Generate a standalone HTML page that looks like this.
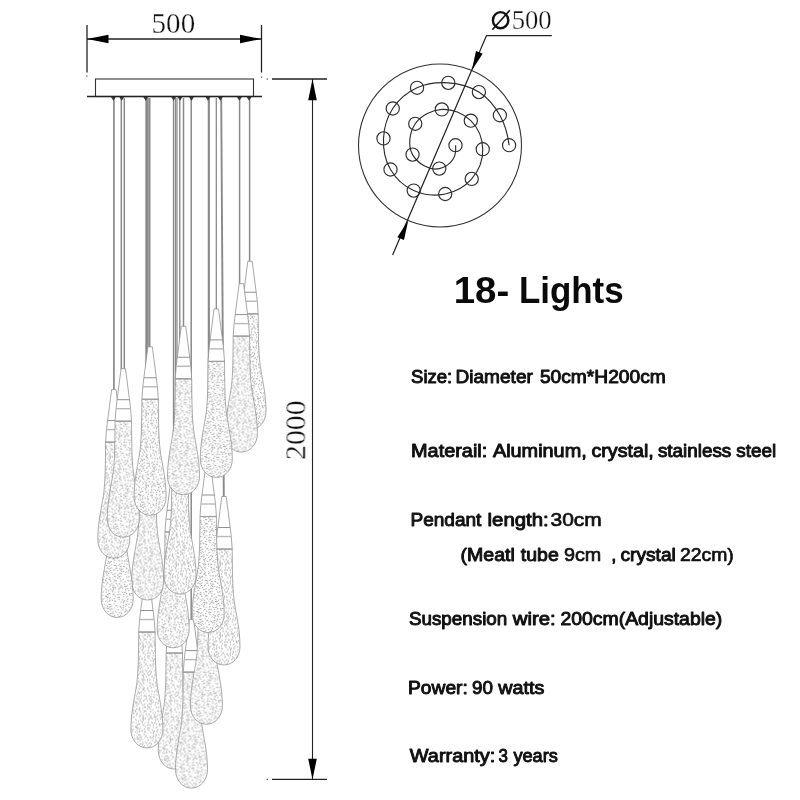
<!DOCTYPE html>
<html><head><meta charset="utf-8"><title>18 Lights</title>
<style>html,body{margin:0;padding:0;background:#fff}body{width:800px;height:800px;overflow:hidden;font-family:"Liberation Sans",sans-serif}svg{display:block}.t{font-family:"Liberation Sans",sans-serif;font-weight:normal;fill:#111;stroke:#111;stroke-width:.95px;stroke-linejoin:round}.h{font-family:"Liberation Sans",sans-serif;font-weight:bold;fill:#0a0a0a}.s{font-family:"Liberation Serif",serif;fill:#111;stroke:#fff;stroke-width:.3px}</style></head><body>
<svg width="800" height="800" viewBox="0 0 800 800">
<defs>
<pattern id="st" width="72" height="72" patternUnits="userSpaceOnUse"><rect width="72" height="72" fill="#fff"/><path d="M23.3 10.9l-0.3 -0.1M46.9 5.2l1.3 -0.2M38.6 26.3l1.1 0.4M4.2 36.5l0.1 -0.6M2.7 31.2l1.2 0.7M5.0 6.5l1.0 0.7M30.6 59.5l-0.8 0.0M8.9 16.1l-0.5 0.2M45.2 68.2l0.4 0.9M41.6 28.6l0.6 1.2M70.3 3.4l-0.1 -0.5M61.8 20.9l0.3 0.2M10.4 8.5l-0.9 -0.6M22.2 58.8l0.3 -1.2M13.0 41.9l0.5 -0.1M46.0 26.8l-0.6 0.1M39.4 4.5l-1.1 -0.9M4.3 14.8l-0.8 -0.7M49.0 30.8l-0.6 -0.9M22.6 42.2l-0.9 -0.2M32.6 21.6l0.2 -0.6M57.2 50.3l-0.0 0.7M17.6 41.4l-0.4 0.2M37.8 63.0l0.1 -0.3M52.5 20.7l0.1 1.2M70.6 8.5l-1.3 -0.5M30.1 54.5l-0.1 -1.2M10.9 35.2l1.3 -0.5M2.8 48.1l-0.2 -0.5M55.0 41.3l0.4 -0.4M50.1 42.8l0.0 -0.8M41.8 32.8l-0.5 0.9M60.5 68.0l1.1 0.8M34.1 47.8l-0.9 -0.1M4.4 50.5l-0.6 -1.2M46.6 71.5l-0.5 -1.2M59.2 20.5l0.3 0.6M27.8 48.1l0.1 0.5M4.2 55.3l-0.3 -0.2M28.1 62.7l1.0 -0.6M5.8 32.3l0.3 1.3M59.0 62.2l-0.5 -1.1M20.0 29.9l-0.5 -0.3M25.8 63.7l-0.5 0.8M69.0 10.9l0.5 0.1M12.7 16.7l0.7 1.2M16.8 34.9l1.2 0.4M42.4 18.9l-0.6 -0.8M0.3 30.2l-0.7 1.1M26.6 40.8l-0.5 0.4M68.6 49.7l0.5 -1.0M37.1 44.5l0.2 0.5M64.8 56.2l-0.1 1.0M28.3 28.7l-0.4 -0.8M7.5 45.7l-1.0 -0.2M15.0 11.7l1.2 -0.9M24.5 3.8l-0.9 0.2M0.0 10.9l-1.0 1.0M7.3 26.2l-0.8 0.1M1.8 63.0l0.9 0.0M44.2 10.7l-1.1 0.7M18.2 25.0l-0.2 -0.4M26.2 8.8l0.3 -0.5M61.1 71.5l-0.0 0.7M33.6 34.8l-0.5 -0.1M24.7 19.1l-1.0 -0.2M59.7 11.6l0.2 0.3M1.7 68.5l0.4 -1.3M38.0 10.6l-0.5 0.1M39.1 1.9l0.6 -0.4M38.0 70.5l-1.0 -1.1M62.2 50.1l-0.9 0.9M12.0 55.6l-0.7 0.4M38.3 56.1l0.1 -1.0M23.7 16.1l1.3 0.2M58.4 70.9l-0.8 0.4M61.4 58.0l0.6 -1.0M58.9 53.3l-1.4 -0.1M16.3 37.3l1.1 -0.6M2.0 20.1l1.1 -0.7M18.7 49.9l-0.9 -0.0M68.9 32.2l-0.2 -1.0M67.5 71.1l-0.4 -1.4M68.8 26.3l-0.1 -0.6M15.9 16.3l0.5 0.7M14.2 14.7l0.4 -0.6M44.9 64.8l0.4 -0.5M60.5 34.5l0.1 1.1M47.0 57.6l0.9 0.2M54.0 34.4l-0.4 -0.2M70.0 28.5l-1.3 -0.6M28.9 68.2l-0.7 -0.4M52.2 12.2l-0.0 -0.6M9.1 10.9l0.2 0.8M10.5 59.5l1.4 0.5M70.6 47.3l1.0 -0.1M9.4 1.0l0.5 -1.3M37.9 67.2l0.8 0.0M31.2 62.8l0.4 0.4M59.5 15.2l0.5 0.0M18.1 21.1l-1.1 0.2M9.4 65.5l-1.0 0.4M25.5 33.0l0.3 0.5M42.0 65.1l-0.1 0.3M30.3 66.1l1.4 -0.1M36.1 38.3l0.6 0.8M31.7 13.2l-0.1 -0.3M0.3 57.5l0.8 -0.5M52.2 40.1l-0.8 0.1M23.5 37.3l-0.6 0.7M7.6 40.3l0.2 -0.8M55.6 36.6l0.1 -0.7M40.4 54.7l0.7 0.9M65.7 31.9l-0.8 -0.9M44.1 36.4l0.2 0.7M36.9 49.9l0.3 0.2M32.6 38.4l0.5 1.3M34.4 67.8l-0.8 0.2M50.3 63.1l-0.8 -1.0M67.8 18.7l-0.3 0.4M40.3 67.9l-1.3 -0.7M8.8 31.8l-0.1 -1.1M5.2 17.3l0.3 -0.4M5.3 48.2l-1.1 -0.2M56.4 64.6l0.4 -0.0M11.1 51.6l0.0 0.6M47.5 10.3l-0.6 -1.2M63.6 69.7l0.0 0.4M15.8 68.6l0.4 1.1M28.7 35.1l0.9 -1.1M71.3 59.9l-1.4 -0.4M11.6 31.1l-0.2 1.4M37.1 24.4l1.0 0.5M14.1 22.9l-1.3 -0.1M52.0 1.4l-1.0 0.6M1.3 23.9l0.5 -0.0M4.6 70.9l1.0 0.7M7.5 19.1l1.0 -0.6M19.5 9.3l-1.0 0.3M41.1 50.4l0.1 0.4M6.4 4.1l0.2 -0.5M5.2 67.6l-0.3 -1.0M6.0 61.6l-0.4 0.4M32.7 24.4l0.5 0.3M37.9 17.2l-0.1 0.8M22.5 22.0l0.1 0.4M36.0 12.8l-0.7 -0.6M25.0 1.3l-0.5 0.1M18.0 1.1l0.3 0.8M13.6 34.2l-0.2 -0.3M67.3 7.7l-0.2 -0.9M59.0 31.1l0.6 0.3M35.6 60.1l0.7 0.4M49.5 70.7l0.4 -1.0M24.7 59.9l-1.3 -0.6M50.9 45.8l-0.1 -1.2M29.1 25.0l-0.7 -0.5M3.9 9.3l0.1 -0.5M18.4 11.8l1.2 0.8M20.3 17.4l0.6 -0.1M21.1 33.1l0.3 1.1M19.0 69.2l-0.5 -0.3M70.0 39.4l-1.3 -0.6M22.3 25.7l-0.6 -1.1M0.1 27.5l0.5 1.2M6.5 28.8l0.1 0.4M3.0 1.6l0.5 0.2M42.2 38.1l-0.2 0.9M54.0 47.3l0.6 1.0M3.2 60.1l0.9 -0.1M64.2 45.2l-0.1 0.4M52.8 58.5l0.7 -0.6M10.0 37.7l-0.5 0.7M57.9 59.5l0.7 -1.1M49.2 49.9l0.3 0.5M40.2 45.2l-1.0 0.5M45.1 49.0l0.2 -1.0M35.2 0.2l-0.3 -0.5M53.0 18.2l-0.6 -0.1M52.5 14.8l0.2 -0.2M53.3 70.3l0.1 0.3M35.6 27.5l0.8 -0.8M55.2 44.4l-0.0 0.5M10.6 18.3l-1.1 -0.8M48.7 20.9l1.2 -0.7M37.2 33.5l-0.4 -0.3M33.6 8.5l-0.6 -1.2M64.3 14.3l1.1 -0.6M70.4 67.4l-0.1 -0.9M59.1 36.6l0.1 -0.6M16.7 64.6l-0.4 0.0M0.3 35.4l-0.9 -0.8M10.1 24.8l-1.1 -1.0M0.1 54.1l1.2 -0.2M60.4 8.6l0.7 -0.7M66.7 51.3l-0.6 0.3M64.9 20.9l1.3 -0.6M71.9 42.4l0.4 0.0M19.8 3.5l1.0 -0.5M20.6 67.4l-0.5 -0.1M21.4 53.2l0.3 -0.5M70.3 18.7l0.9 0.6M12.0 11.6l-0.7 -0.7M35.8 15.8l0.0 0.8M13.9 6.5l-0.4 0.5M24.6 6.6l-0.6 -1.0M17.2 18.6l-0.2 -0.4M54.0 29.7l-0.2 0.4M29.8 37.7l-0.3 -0.7M4.5 20.0l-0.2 1.1M62.1 15.5l1.4 0.3M28.8 32.1l0.8 -0.1M68.7 61.1l0.4 -0.2M62.8 1.6l-0.8 -0.0M64.5 34.1l0.1 0.3M42.3 0.0l0.9 0.1M46.6 55.1l0.1 -0.6M46.5 21.9l-0.6 1.0M37.8 42.0l-0.8 -0.0M27.9 16.1l0.1 -0.9M22.1 1.6l-0.6 -1.4M30.2 18.5l-0.0 1.2M48.0 66.6l-0.5 0.6M24.3 30.3l-0.3 0.4M49.1 14.3l-0.7 -0.0M69.8 22.4l-1.1 0.7M15.9 54.8l-0.2 -1.2M16.1 30.0l0.8 -0.5M10.5 28.3l1.3 -0.0M10.2 3.7l-1.1 0.6M64.7 63.6l1.1 0.9M67.1 23.7l1.3 0.6M13.4 67.4l0.6 0.3M26.9 23.9l-1.0 0.3M12.2 0.2l0.3 0.5M69.4 14.9l-0.4 0.3M3.5 34.1l-0.6 0.2M26.8 66.2l0.9 0.2M13.9 26.2l-0.9 0.3M55.2 2.9l0.2 -0.7M2.5 4.5l-0.7 -0.2M53.8 64.7l-0.4 0.9M69.0 44.4l1.4 -0.0M67.9 1.7l1.1 -0.5M66.8 13.2l-0.4 -0.1M59.2 55.6l-0.2 -0.5M43.7 23.6l0.1 -0.5M56.3 5.7l0.8 0.2M2.4 39.8l-0.6 -0.3M23.5 70.6l-0.9 0.0M19.1 6.1l0.3 -0.2M6.9 35.9l-0.3 -0.3M51.1 32.2l0.1 -0.4M53.9 61.0l-0.2 -0.5M11.0 63.7l-0.6 0.6M28.5 71.5l0.5 -0.0M58.2 47.0l-1.3 -0.7M8.6 13.6l0.4 -0.7M62.4 32.3l0.5 0.1M18.7 56.0l-0.2 1.0M42.9 44.6l0.8 1.1M57.3 39.5l-1.4 -0.2M26.2 14.2l0.6 -1.2M0.4 64.9l0.3 0.4M14.2 9.1l-0.7 0.8M34.8 3.8l0.1 -0.3M66.7 27.9l1.3 0.7M56.6 16.0l-0.9 -0.5M30.2 41.9l-0.3 -0.2M30.7 47.4l0.5 0.4M32.2 31.6l0.5 -1.3M1.7 44.6l0.7 -1.1M55.0 56.2l1.0 0.0M56.8 67.0l-0.7 0.4M4.7 25.3l1.0 -0.7M54.4 11.4l-0.4 -0.7M2.7 13.1l0.8 0.9M62.9 40.0l0.8 0.6M7.5 71.5l1.0 -0.4M25.9 55.1l-0.1 -0.4M42.2 47.8l-1.5 -0.2M44.4 31.1l1.4 -0.1M42.4 14.7l-1.1 0.6M44.9 34.2l-0.9 0.6M16.3 7.6l-0.3 -0.8M39.9 31.4l-0.0 -0.9M19.1 46.2l-0.2 -0.7M53.7 23.5l-0.8 1.2M63.4 23.7l1.0 -1.1M31.5 52.2l0.5 0.1M41.1 22.2l-0.4 -0.3M15.3 44.8l-0.7 -0.7M50.2 53.0l1.3 -0.4M4.7 42.5l-0.4 0.4M65.8 68.0l-0.5 0.5M69.4 36.3l-0.9 -0.6M61.3 44.5l0.5 0.0M25.0 50.7l-0.7 1.2M62.1 6.5l0.3 -0.3M0.1 14.5l-0.5 -1.2M35.4 57.4l-1.1 -0.3M50.4 35.9l-0.2 1.1M50.2 56.7l0.5 -0.1M14.8 19.0l0.5 1.2M50.6 60.7l0.2 0.8M23.6 13.6l-0.4 0.6M70.2 52.5l-0.8 0.6M28.0 2.4l-0.3 -0.6M28.7 57.0l-0.3 0.9M10.2 43.5l-0.3 -0.4M22.5 45.2l0.5 -0.7M45.3 18.0l0.5 -0.2M13.2 47.1l0.2 -0.4M56.0 28.0l-0.4 0.0M39.0 51.6l0.2 0.8M15.1 49.3l-1.3 -0.2M67.7 37.9l1.2 -0.6M15.8 57.7l0.4 1.1M9.3 55.9l0.8 0.5M33.8 40.5l-0.7 -0.5M25.4 46.0l0.1 -0.6M60.0 25.5l0.4 -0.6M43.8 56.3l-0.7 1.1M40.0 19.0l-0.8 -0.0M47.9 60.5l1.1 -0.2M69.2 5.4l0.6 0.3M45.9 45.8l-0.2 -0.7M36.3 19.6l-0.6 -0.2M66.3 43.8l-0.2 0.5M48.0 33.0l-0.6 0.0M13.1 2.7l-0.7 -1.2M42.6 67.5l0.6 -0.1M29.7 7.3l1.1 0.4M46.4 15.3l0.9 0.1M0.3 49.2l-0.0 0.4M52.5 6.1l0.6 -0.4M58.8 5.7l-0.8 0.8M68.0 56.5l-0.3 0.2M33.5 14.9l0.2 1.3M57.0 33.1l-0.1 -0.3M6.3 58.1l-0.2 0.5M63.7 37.6l0.9 -0.4M65.5 4.6l-1.0 1.0M8.6 69.1l-0.3 -0.8M48.2 28.3l0.4 -0.7M16.0 2.8l1.3 0.4M60.3 3.4l1.3 0.1M54.4 67.6l-0.3 -0.1M7.6 23.3l0.4 0.5M22.9 65.0l0.4 1.0M4.1 64.4l0.1 0.6M18.6 14.5l-0.0 0.5M41.1 9.9l0.3 -0.6M58.4 42.0l1.2 -0.1M13.4 59.9l1.1 -0.7M26.4 11.8l-0.8 -0.8M8.7 51.5l0.4 -0.8M18.0 58.8l0.4 -0.1M2.2 6.9l-0.3 -0.8M50.6 7.4l-0.6 -1.2M29.2 9.9l0.2 0.3M42.6 62.0l-0.3 -0.6M55.9 24.4l-1.0 -0.7M31.4 70.6l0.8 -0.9M40.1 35.4l0.4 0.9M20.5 71.1l1.1 0.8M21.3 55.6l-0.4 0.3M53.2 53.5l-0.2 0.9M41.9 6.3l-0.3 -0.8M60.7 60.3l-0.1 -1.2M25.3 68.2l0.8 1.0M48.7 37.8l0.2 -0.6M31.7 45.0l0.8 0.4M38.2 58.7l-0.3 -0.2M36.9 8.0l1.3 0.3M63.9 30.3l-0.1 -0.8M11.3 20.9l0.6 -0.2M45.4 43.4l0.9 -1.1M45.8 3.0l-0.4 0.6M22.1 49.7l0.7 1.2M54.7 7.7l-0.3 -1.5M51.5 25.5l-1.3 -0.3M41.9 25.1l0.3 -0.4M32.4 27.8l-0.0 -0.8M17.5 28.1l1.0 1.0M29.0 4.7l-0.1 -0.6M47.8 24.6l0.0 0.9M62.8 8.8l-0.7 0.5M26.0 36.0l-0.4 0.2M50.3 17.9l-0.7 0.8M45.3 13.1l-0.9 0.2M11.7 14.3l0.5 0.2M18.8 39.3l-0.2 0.3M50.9 48.3l-0.5 0.4M10.2 40.6l-0.2 -0.7M59.4 23.1l-0.0 0.6M49.5 11.8l-1.1 0.2M56.7 30.6l0.8 0.9M37.1 30.3l-0.2 0.8M57.6 2.6l0.4 -0.1M60.8 28.3l0.0 -0.3M42.4 3.1l-0.6 0.6M19.7 36.0l-0.7 0.9M53.2 36.6l0.3 0.1M5.8 12.9l1.1 -0.6M13.5 38.7l-0.7 -0.1M66.6 40.6l-1.0 0.2M44.2 52.1l-0.4 -0.6M55.6 70.4l0.3 -0.5M40.0 13.1l-0.2 0.2M20.3 23.9l0.1 0.9M35.0 64.1l-0.2 0.7M11.6 49.2l0.1 0.8M62.2 13.1l0.5 1.0M49.6 2.7l-0.7 0.6M1.4 71.3l0.4 -0.8M63.6 52.7l0.1 -0.5M39.2 39.5l-0.3 0.1M18.3 44.0l0.6 -1.1M50.0 23.4l1.2 -0.2M46.5 39.5l-0.5 -0.1M61.5 36.7l-0.5 -0.9M53.5 27.3l-0.6 -0.4M51.3 28.3l1.2 -0.4M19.1 65.4l-0.2 0.5M34.1 52.0l0.3 -1.3M27.5 59.9l-0.2 -0.4M32.6 6.3l-0.6 -0.4M45.8 61.8l-0.4 1.4M3.7 22.6l-1.1 0.9M21.2 15.2l-0.3 0.1M6.4 10.1l-0.1 -0.6M25.4 27.0l1.3 -0.6M17.6 52.8l0.2 -0.3M32.7 58.3l0.7 0.1M64.4 48.0l-0.7 -0.1M49.2 40.1l0.2 -1.1M68.6 64.2l-0.7 0.5M54.9 21.0l1.0 -0.4M41.4 59.5l-1.0 0.1M5.0 39.5l-0.0 0.7M13.4 62.8l-0.8 0.7M19.7 60.8l-0.9 0.0M14.0 53.0l-0.0 -0.3M7.4 7.7l-0.6 1.2M51.1 68.1l0.8 1.1M64.1 66.0l0.4 -0.4M65.7 60.3l-0.0 0.4M1.5 16.6l-0.8 0.2M38.2 46.8l-0.3 -1.1M21.9 4.6l0.5 0.1M65.2 11.4l-1.5 0.1M47.5 42.3l-0.4 -0.1M20.5 27.4l0.2 -0.3M31.6 10.1l-0.0 -0.3M72.0 32.9l0.3 0.0M18.6 32.7l-1.0 -0.7M64.8 16.7l0.8 0.4M2.2 52.2l1.1 0.1M47.7 18.8l-0.4 -0.0M57.2 22.3l-0.1 0.3M44.5 7.6l0.1 -0.8M52.8 9.3l0.4 0.7M67.6 53.6l0.5 -0.0M48.7 47.0l-0.6 0.1M57.3 13.2l-0.3 -0.4M61.2 52.4l0.9 -1.0M27.9 43.9l-1.1 -0.2M56.6 18.8l0.9 0.1M70.2 71.6l-0.4 0.3M27.1 19.4l-0.3 -1.1M67.0 34.1l-0.5 -1.1M7.1 65.8l1.1 -0.9M63.8 26.5l-0.6 0.3M8.0 53.7l0.5 -0.5M65.0 0.3l-1.3 0.3M57.7 8.1l-0.8 0.4M62.3 42.4l0.9 -0.3M15.3 32.5l0.8 -0.8M61.3 64.1l0.2 -0.4M44.0 21.2l-0.7 0.1M42.2 41.4l-0.4 -0.3M17.3 61.7l1.2 0.7M15.3 0.2l-1.4 0.5M27.0 52.8l0.5 -0.6M47.0 7.7l0.4 -1.1M59.8 17.8l-0.5 0.4M37.6 21.6l0.3 -0.5M31.3 16.4l1.0 0.6M21.8 19.3l0.2 -0.5M46.5 36.4l1.3 -0.6M63.1 4.3l-1.4 0.4M54.0 50.1l-0.2 -1.2M68.4 68.9l-0.1 -1.2M8.5 61.1l-0.6 -0.2M21.7 39.2l-0.3 -0.2M66.3 46.7l-0.6 0.7M35.6 54.5l0.4 1.2M62.0 54.7l0.1 -0.7M25.1 43.0l0.7 -0.4M0.1 5.1l1.0 -0.7M22.2 7.6l0.3 1.3M67.6 66.4l1.2 -0.2M59.8 49.8l0.5 1.2M23.5 47.7l0.4 -0.5M22.3 61.3l-0.8 0.7M60.1 39.1l-0.4 0.3M9.5 47.0l0.4 0.9M32.9 60.9l0.2 -0.6M69.1 41.7l-0.3 -0.2M4.3 45.4l-1.2 0.4M0.5 37.9l0.6 -1.2M39.5 65.3l1.1 -0.0M45.0 59.1l0.7 0.6M20.7 63.4l0.6 0.7M41.1 16.7l1.0 -1.0M32.0 2.2l-0.4 -0.6M33.8 17.8l-1.4 -0.0M35.3 10.4l-0.6 -0.0M29.4 51.1l1.2 -0.1M58.9 65.9l-0.1 -0.5M24.3 39.6l-0.5 0.1M34.9 31.5l0.7 -0.9M52.8 43.7l0.9 0.7M0.5 1.8l1.0 -0.5M54.6 38.8l0.1 1.3M17.1 47.7l-0.8 -0.3M31.9 49.6l-1.2 0.1M39.7 61.3l-0.1 0.7M58.5 27.5l1.2 -0.4M20.1 41.4l-0.5 0.6M7.5 43.2l-0.3 -0.2M37.0 5.4l-0.2 -0.6M23.3 34.8l-0.6 -0.1M35.9 35.9l-0.4 0.5M58.1 44.5l0.3 0.9M67.8 21.0l0.3 -0.8M11.2 6.0l-1.0 0.5M32.4 55.8l-0.2 -0.4M34.5 43.8l-1.1 -0.8M56.0 53.7l0.8 0.1M28.3 21.9l0.3 0.8M24.5 24.6l-0.5 0.8M63.2 18.8l-0.3 -0.5M11.4 69.8l0.4 -0.2M23.7 54.1l0.4 -1.3M46.1 29.5l0.4 0.5M62.8 62.0l-1.0 0.0M25.0 21.8l-0.2 0.9M31.2 35.4l-0.5 -0.4M64.8 7.2l-0.5 1.2M47.7 52.6l-0.6 0.7M23.5 56.6l0.7 -1.0M2.4 28.2l1.0 0.1M12.9 44.4l-0.3 0.2M38.9 28.9l0.8 -1.0M51.3 65.3l0.1 0.5M38.0 14.5l-0.3 -0.1M39.6 7.7l-0.7 -1.1M6.7 50.2l-1.0 0.9M48.1 44.6l-0.2 -0.4M47.3 64.1l1.1 -0.1M27.0 6.3l-0.7 -0.0M32.6 65.5l0.5 -0.1M13.7 29.7l0.2 -0.4M44.3 5.0l-0.4 -1.2M30.6 22.9l-0.7 -1.3M15.3 40.4l-1.2 0.2M21.0 11.8l-0.3 -0.3M39.7 24.3l1.0 0.0M71.0 25.1l0.6 0.4M0.2 21.7l0.6 -0.0M55.2 58.8l0.0 -0.3M35.2 22.4l0.6 0.7M67.2 16.4l-1.0 -1.0M29.1 13.3l-0.7 0.9M16.8 5.1l-0.2 -0.3M26.2 70.9l-0.5 0.1M15.8 24.7l-0.3 -0.7M8.9 21.3l0.4 1.1M22.3 29.0l-1.3 -0.4M56.9 10.9l-0.8 0.2M70.8 62.6l1.1 0.6M43.6 26.9l-0.9 -0.9M62.0 47.6l0.5 -0.9M3.5 57.7l-0.8 -0.7M68.8 58.7l0.4 0.3M49.4 5.3l0.1 1.2M4.5 52.9l-0.5 -0.2M2.9 66.5l0.9 -0.7M47.7 69.1l-0.8 -0.4M20.7 43.7l1.2 -0.5M26.7 38.3l-1.4 0.4M14.1 65.0l-0.1 1.0M23.0 67.4l-0.1 0.4M7.6 63.4l-0.5 0.0M26.3 57.4l-1.0 -0.2M65.6 36.1l-0.1 -0.3M41.4 56.9l0.7 0.6M8.7 34.3l0.7 -0.2M36.7 2.1l0.0 -0.6M6.1 1.7l0.6 -0.4M43.9 70.3l0.4 -0.1M64.6 50.3l1.1 -1.0M56.4 62.0l0.3 -1.2M38.1 37.0l-0.6 0.8M52.6 55.9l0.9 0.2M31.7 68.1l-1.0 1.1M42.8 54.1l0.4 -0.5M63.8 58.3l1.3 0.7M51.9 3.8l1.0 -0.4M43.9 39.7l-1.1 -0.7M44.5 0.8l-0.5 0.8M51.3 51.0l-1.2 -0.3M37.8 53.8l-1.1 -0.9M54.9 13.8l-0.3 -0.9M16.6 9.9l0.0 0.4M10.8 67.5l-0.9 0.3M64.6 42.1l-0.0 -0.6M71.3 44.9l0.1 0.4M33.8 70.2l-1.2 -0.0M54.3 0.6l-0.1 1.1M66.8 62.6l0.2 0.5M70.5 12.8l1.1 -0.2M6.7 15.1l-0.7 -0.5M67.5 30.2l0.3 -0.4M26.7 30.9l1.1 0.7M1.9 55.6l0.7 -0.0M21.1 47.5l0.1 -0.9M34.9 25.2l0.7 0.2M28.8 39.9l0.1 -1.0M40.4 70.5l0.6 -0.2M40.1 42.4l0.3 1.3M70.6 55.9l-1.2 -0.4M30.6 29.6l-0.3 1.4M42.3 12.3l1.1 0.1M57.3 57.1l-0.3 -0.1M54.6 32.1l-0.8 -0.3" stroke="#8a8a8a" stroke-width=".85" fill="none" stroke-linecap="round"/></pattern>
<g id="pd"><path d="M-8.2,52.5 C-8.4,75 -8.5,90 -10,103 C-12,118 -16,132 -16,150 C-16,160.5 -9,168.5 0,168.5 C9,168.5 16,160.5 16,150 C16,132 12,118 10,103 C8.5,90 8.4,75 8.2,52.5 Z" fill="url(#st)" stroke="#909090" stroke-width=".75"/><path d="M-2.2,0 L2.2,0 L6.2,31 L7.3,40 L8.2,52.5 L-8.2,52.5 L-7.3,40 L-6.2,31 Z" fill="#fff" stroke="#929292" stroke-width=".8"/><path d="M-6.2,31H6.2" fill="none" stroke="#858585" stroke-width=".9"/><path d="M-7.1,40H7.1" fill="none" stroke="#b8b8b8" stroke-width="1.4"/><path d="M-8.2,52.5H8.2" fill="none" stroke="#a0a0a0" stroke-width="1.25"/></g>
<filter id="idf" x="0" y="0" width="800" height="800" filterUnits="userSpaceOnUse"><feOffset dx="0" dy="0"/></filter>
</defs>
<rect width="800" height="800" fill="#fff"/>
<line x1="175.60" y1="98" x2="175.60" y2="601.50" stroke="#8a8a8a" stroke-width="1.3"/>
<line x1="177.00" y1="98" x2="177.00" y2="601.50" stroke="#8a8a8a" stroke-width="1.2"/>
<use href="#pd" x="174.30" y="600.50"/>
<line x1="191.20" y1="98" x2="191.20" y2="620.60" stroke="#8a8a8a" stroke-width="1.5"/>
<use href="#pd" x="191.50" y="619.60"/>
<line x1="209.40" y1="98" x2="209.40" y2="556.70" stroke="#8a8a8a" stroke-width="1.0"/>
<use href="#pd" x="206.40" y="555.70"/>
<line x1="146.20" y1="98" x2="146.20" y2="580.50" stroke="#8a8a8a" stroke-width="1.8"/>
<use href="#pd" x="146.90" y="579.50"/>
<line x1="221.20" y1="98" x2="223.80" y2="497.50" stroke="#8a8a8a" stroke-width="1.9"/>
<use href="#pd" x="224.00" y="496.50"/>
<line x1="208.50" y1="98" x2="208.50" y2="465.00" stroke="#8a8a8a" stroke-width="1.5"/>
<use href="#pd" x="208.20" y="464.00"/>
<line x1="173.60" y1="98" x2="173.60" y2="480.30" stroke="#8a8a8a" stroke-width="1.5"/>
<use href="#pd" x="173.20" y="479.30"/>
<line x1="179.80" y1="98" x2="179.80" y2="426.50" stroke="#8a8a8a" stroke-width="1.4"/>
<use href="#pd" x="180.00" y="425.50"/>
<line x1="147.80" y1="98" x2="147.80" y2="432.50" stroke="#8a8a8a" stroke-width="1.8"/>
<use href="#pd" x="147.70" y="431.50"/>
<use href="#pd" x="117.20" y="448.90"/>
<line x1="249.60" y1="98" x2="249.60" y2="262.25" stroke="#8a8a8a" stroke-width="1.5"/>
<use href="#pd" x="250.00" y="261.25"/>
<line x1="239.60" y1="98" x2="239.60" y2="284.60" stroke="#8a8a8a" stroke-width="1.5"/>
<use href="#pd" x="241.40" y="283.60"/>
<line x1="113.90" y1="98" x2="113.90" y2="390.60" stroke="#8a8a8a" stroke-width="1.7"/>
<use href="#pd" x="113.80" y="389.60"/>
<line x1="121.30" y1="98" x2="121.30" y2="369.70" stroke="#8a8a8a" stroke-width="1.5"/>
<line x1="124.30" y1="98" x2="124.30" y2="369.70" stroke="#8a8a8a" stroke-width="1.5"/>
<use href="#pd" x="123.30" y="368.70"/>
<line x1="149.60" y1="98" x2="149.60" y2="347.75" stroke="#8a8a8a" stroke-width="1.8"/>
<use href="#pd" x="150.10" y="346.75"/>
<line x1="183.50" y1="98" x2="183.50" y2="327.25" stroke="#8a8a8a" stroke-width="1.5"/>
<use href="#pd" x="183.50" y="326.25"/>
<line x1="216.30" y1="98" x2="216.30" y2="309.90" stroke="#8a8a8a" stroke-width="1.3"/>
<use href="#pd" x="216.30" y="308.90"/>
<path d="M111.0,97 h4.8 l-2.4,3.8 z" fill="#3a3a3a"/>
<path d="M119.3,97 h4.8 l-2.4,3.8 z" fill="#3a3a3a"/>
<path d="M143.3,97 h4.8 l-2.4,3.8 z" fill="#3a3a3a"/>
<path d="M171.2,97 h4.8 l-2.4,3.8 z" fill="#3a3a3a"/>
<path d="M177.6,97 h4.8 l-2.4,3.8 z" fill="#3a3a3a"/>
<path d="M189.1,97 h4.8 l-2.4,3.8 z" fill="#3a3a3a"/>
<path d="M205.6,97 h4.8 l-2.4,3.8 z" fill="#3a3a3a"/>
<path d="M217.9,97 h4.8 l-2.4,3.8 z" fill="#3a3a3a"/>
<path d="M237.0,97 h4.8 l-2.4,3.8 z" fill="#3a3a3a"/>
<path d="M246.7,97 h4.8 l-2.4,3.8 z" fill="#3a3a3a"/>
<rect x="95.5" y="79" width="158" height="17.5" fill="#fff" stroke="#333" stroke-width="1.1"/>
<line x1="87" y1="96.5" x2="262" y2="96.5" stroke="#222" stroke-width="1.3"/>
<g stroke="#222" stroke-width="1.3" fill="none"><line x1="87" y1="25" x2="87" y2="72.5"/><line x1="261.5" y1="25" x2="261.5" y2="72.5"/><line x1="87" y1="39" x2="261.5" y2="39" stroke-width="1.6"/></g>
<path d="M87,39 l21.5,-4.2 v8.4 z M261.5,39 l-21.5,-4.2 v8.4 z" fill="#000"/>
<g fill="#555"><rect x="86.3" y="75.5" width="1.2" height="1.2"/><rect x="261" y="76.5" width="1.2" height="1.2"/><rect x="266.6" y="78.4" width="1.3" height="1.3"/><rect x="266.6" y="778.8" width="1.3" height="1.3"/></g>
<g stroke="#222" fill="none"><line x1="272" y1="79" x2="327" y2="79" stroke-width="1.5"/><line x1="272" y1="779.4" x2="327" y2="779.4" stroke-width="1.2"/><line x1="312.5" y1="79" x2="312.5" y2="779.4" stroke-width="1.1"/></g>
<path d="M312.5,79 l-4.3,21.3 h8.6 z M312.5,779.4 l-4.3,-20.7 h8.6 z" fill="#000"/>
<circle cx="440.0" cy="145.5" r="81.5" fill="none" stroke="#333" stroke-width="1.1"/>
<path d="M455.60,145.25 C455.60,147.25 455.83,149.26 455.60,151.25 C455.39,153.07 455.08,154.90 454.40,156.60 C453.49,158.85 452.01,160.88 450.30,162.60 C448.77,164.14 446.92,165.37 445.00,166.40 C443.20,167.36 441.28,168.13 439.30,168.60 C429.51,170.94 417.45,163.39 412.55,154.60 C407.53,145.60 409.54,132.38 415.25,123.80 C420.83,115.42 431.76,110.11 441.80,109.40 C452.14,108.67 463.38,113.41 470.80,120.65 C478.18,127.86 482.49,138.89 482.75,149.20 C483.01,159.76 478.60,170.90 471.70,178.90 C465.06,186.60 455.14,191.87 445.20,194.00 C434.87,196.22 423.32,194.95 413.70,190.60 C404.17,186.30 395.78,178.52 390.50,169.50 C385.13,160.33 383.06,149.02 383.50,138.40 C383.94,127.98 387.03,117.23 392.75,108.50 C398.58,99.60 407.38,92.24 417.05,87.80 C426.64,83.40 437.78,82.14 448.30,82.85 C458.93,83.56 469.92,86.37 478.90,92.10 C487.68,97.70 494.70,106.21 499.85,115.25 C505.02,124.33 507.79,134.83 509.10,145.20" fill="none" stroke="#2c2c2c" stroke-width="1.15"/>
<circle cx="455.50" cy="145.20" r="6.6" fill="none" stroke="#2c2c2c" stroke-width="1.15"/>
<circle cx="439.30" cy="168.60" r="6.6" fill="none" stroke="#2c2c2c" stroke-width="1.15"/>
<circle cx="412.55" cy="154.60" r="6.6" fill="none" stroke="#2c2c2c" stroke-width="1.15"/>
<circle cx="415.25" cy="123.80" r="6.6" fill="none" stroke="#2c2c2c" stroke-width="1.15"/>
<circle cx="441.80" cy="109.40" r="6.6" fill="none" stroke="#2c2c2c" stroke-width="1.15"/>
<circle cx="470.80" cy="120.65" r="6.6" fill="none" stroke="#2c2c2c" stroke-width="1.15"/>
<circle cx="482.75" cy="149.20" r="6.6" fill="none" stroke="#2c2c2c" stroke-width="1.15"/>
<circle cx="471.70" cy="178.90" r="6.6" fill="none" stroke="#2c2c2c" stroke-width="1.15"/>
<circle cx="445.20" cy="194.00" r="6.6" fill="none" stroke="#2c2c2c" stroke-width="1.15"/>
<circle cx="413.70" cy="190.60" r="6.6" fill="none" stroke="#2c2c2c" stroke-width="1.15"/>
<circle cx="390.50" cy="169.50" r="6.6" fill="none" stroke="#2c2c2c" stroke-width="1.15"/>
<circle cx="383.50" cy="138.40" r="6.6" fill="none" stroke="#2c2c2c" stroke-width="1.15"/>
<circle cx="392.75" cy="108.50" r="6.6" fill="none" stroke="#2c2c2c" stroke-width="1.15"/>
<circle cx="417.05" cy="87.80" r="6.6" fill="none" stroke="#2c2c2c" stroke-width="1.15"/>
<circle cx="448.30" cy="82.85" r="6.6" fill="none" stroke="#2c2c2c" stroke-width="1.15"/>
<circle cx="478.90" cy="92.10" r="6.6" fill="none" stroke="#2c2c2c" stroke-width="1.15"/>
<circle cx="499.85" cy="115.25" r="6.6" fill="none" stroke="#2c2c2c" stroke-width="1.15"/>
<circle cx="509.10" cy="145.20" r="6.6" fill="none" stroke="#2c2c2c" stroke-width="1.15"/>
<path d="M551.8,35.6 H486.5 L392.6,255.1" fill="none" stroke="#222" stroke-width="1.25"/>
<path d="M471.74,70.43 L482.65,53.87 L476.01,51.07 Z M408.26,220.57 L397.35,237.13 L403.99,239.93 Z" fill="#000"/>
<ellipse cx="500.6" cy="20.2" rx="7.7" ry="8.1" fill="none" stroke="#111" stroke-width="2.4"/><line x1="492.3" y1="29.7" x2="509.8" y2="10.3" stroke="#111" stroke-width="1.7"/>
<g filter="url(#idf)">
<text class="s" x="151.6" y="33" font-size="30.3" textLength="43.6" lengthAdjust="spacingAndGlyphs">500</text>
<text class="s" font-size="28.8" textLength="59.6" lengthAdjust="spacingAndGlyphs" transform="translate(305.3,460) rotate(-90)">2000</text>
<text class="s" x="511.7" y="28.5" font-size="26.8" textLength="40" lengthAdjust="spacingAndGlyphs">500</text>
<text class="t" x="411.00" y="383.30" font-size="18.3" textLength="41.27" lengthAdjust="spacingAndGlyphs">Size:</text>
<text class="t" x="455.48" y="383.30" font-size="18.3" textLength="77.42" lengthAdjust="spacingAndGlyphs">Diameter</text>
<text class="t" x="539.93" y="383.30" font-size="18.3" textLength="125.87" lengthAdjust="spacingAndGlyphs">50cm*H200cm</text>
<text class="t" x="411.00" y="456.50" font-size="18.3" textLength="76.27" lengthAdjust="spacingAndGlyphs">Materail:</text>
<text class="t" x="492.90" y="456.50" font-size="18.3" textLength="93.85" lengthAdjust="spacingAndGlyphs">Aluminum,</text>
<text class="t" x="591.42" y="456.50" font-size="18.3" textLength="62.33" lengthAdjust="spacingAndGlyphs">crystal,</text>
<text class="t" x="657.90" y="456.50" font-size="18.3" textLength="73.43" lengthAdjust="spacingAndGlyphs">stainless</text>
<text class="t" x="736.38" y="456.50" font-size="18.3" textLength="39.95" lengthAdjust="spacingAndGlyphs">steel</text>
<text class="t" x="410.48" y="526.00" font-size="18.3" textLength="70.90" lengthAdjust="spacingAndGlyphs">Pendant</text>
<text class="t" x="487.52" y="526.00" font-size="18.3" textLength="61.23" lengthAdjust="spacingAndGlyphs">length:</text>
<text class="t" x="550.48" y="526.00" font-size="18.9" textLength="51.27" lengthAdjust="spacingAndGlyphs" style="stroke-width:.7px">30cm</text>
<text class="t" x="460.48" y="560.90" font-size="18.3" textLength="54.38" lengthAdjust="spacingAndGlyphs">(Meatl</text>
<text class="t" x="520.85" y="560.90" font-size="18.3" textLength="37.95" lengthAdjust="spacingAndGlyphs">tube</text>
<text class="t" x="564.00" y="560.90" font-size="18.9" textLength="37.33" lengthAdjust="spacingAndGlyphs" style="stroke-width:.7px">9cm</text>
<text class="t" x="611.30" y="561.20" font-size="18.3">,</text>
<text class="t" x="620.48" y="560.90" font-size="18.3" textLength="55.32" lengthAdjust="spacingAndGlyphs">crystal</text>
<text class="t" x="679.94" y="560.90" font-size="18.9" textLength="53.88" lengthAdjust="spacingAndGlyphs" style="stroke-width:.7px">22cm)</text>
<text class="t" x="408.95" y="624.90" font-size="18.3" textLength="98.32" lengthAdjust="spacingAndGlyphs">Suspension</text>
<text class="t" x="512.85" y="624.90" font-size="18.3" textLength="42.90" lengthAdjust="spacingAndGlyphs">wire:</text>
<text class="t" x="560.48" y="624.90" font-size="18.3" textLength="161.80" lengthAdjust="spacingAndGlyphs">200cm(Adjustable)</text>
<text class="t" x="408.05" y="694.40" font-size="18.3" textLength="59.75" lengthAdjust="spacingAndGlyphs">Power:</text>
<text class="t" x="471.95" y="694.40" font-size="18.3" textLength="20.90" lengthAdjust="spacingAndGlyphs">90</text>
<text class="t" x="498.38" y="694.40" font-size="18.3" textLength="46.00" lengthAdjust="spacingAndGlyphs">watts</text>
<text class="t" x="409.85" y="762.40" font-size="18.3" textLength="85.38" lengthAdjust="spacingAndGlyphs">Warranty:</text>
<text class="t" x="498.48" y="762.40" font-size="18.3" textLength="9.38" lengthAdjust="spacingAndGlyphs">3</text>
<text class="t" x="513.38" y="762.40" font-size="18.3" textLength="44.52" lengthAdjust="spacingAndGlyphs">years</text>
<text class="h" x="453.70" y="303.00" font-size="37.6" textLength="55.50" lengthAdjust="spacingAndGlyphs">18-</text>
<text class="h" x="518.90" y="303.00" font-size="37.6" textLength="104.80" lengthAdjust="spacingAndGlyphs">Lights</text>
</g>
</svg></body></html>
